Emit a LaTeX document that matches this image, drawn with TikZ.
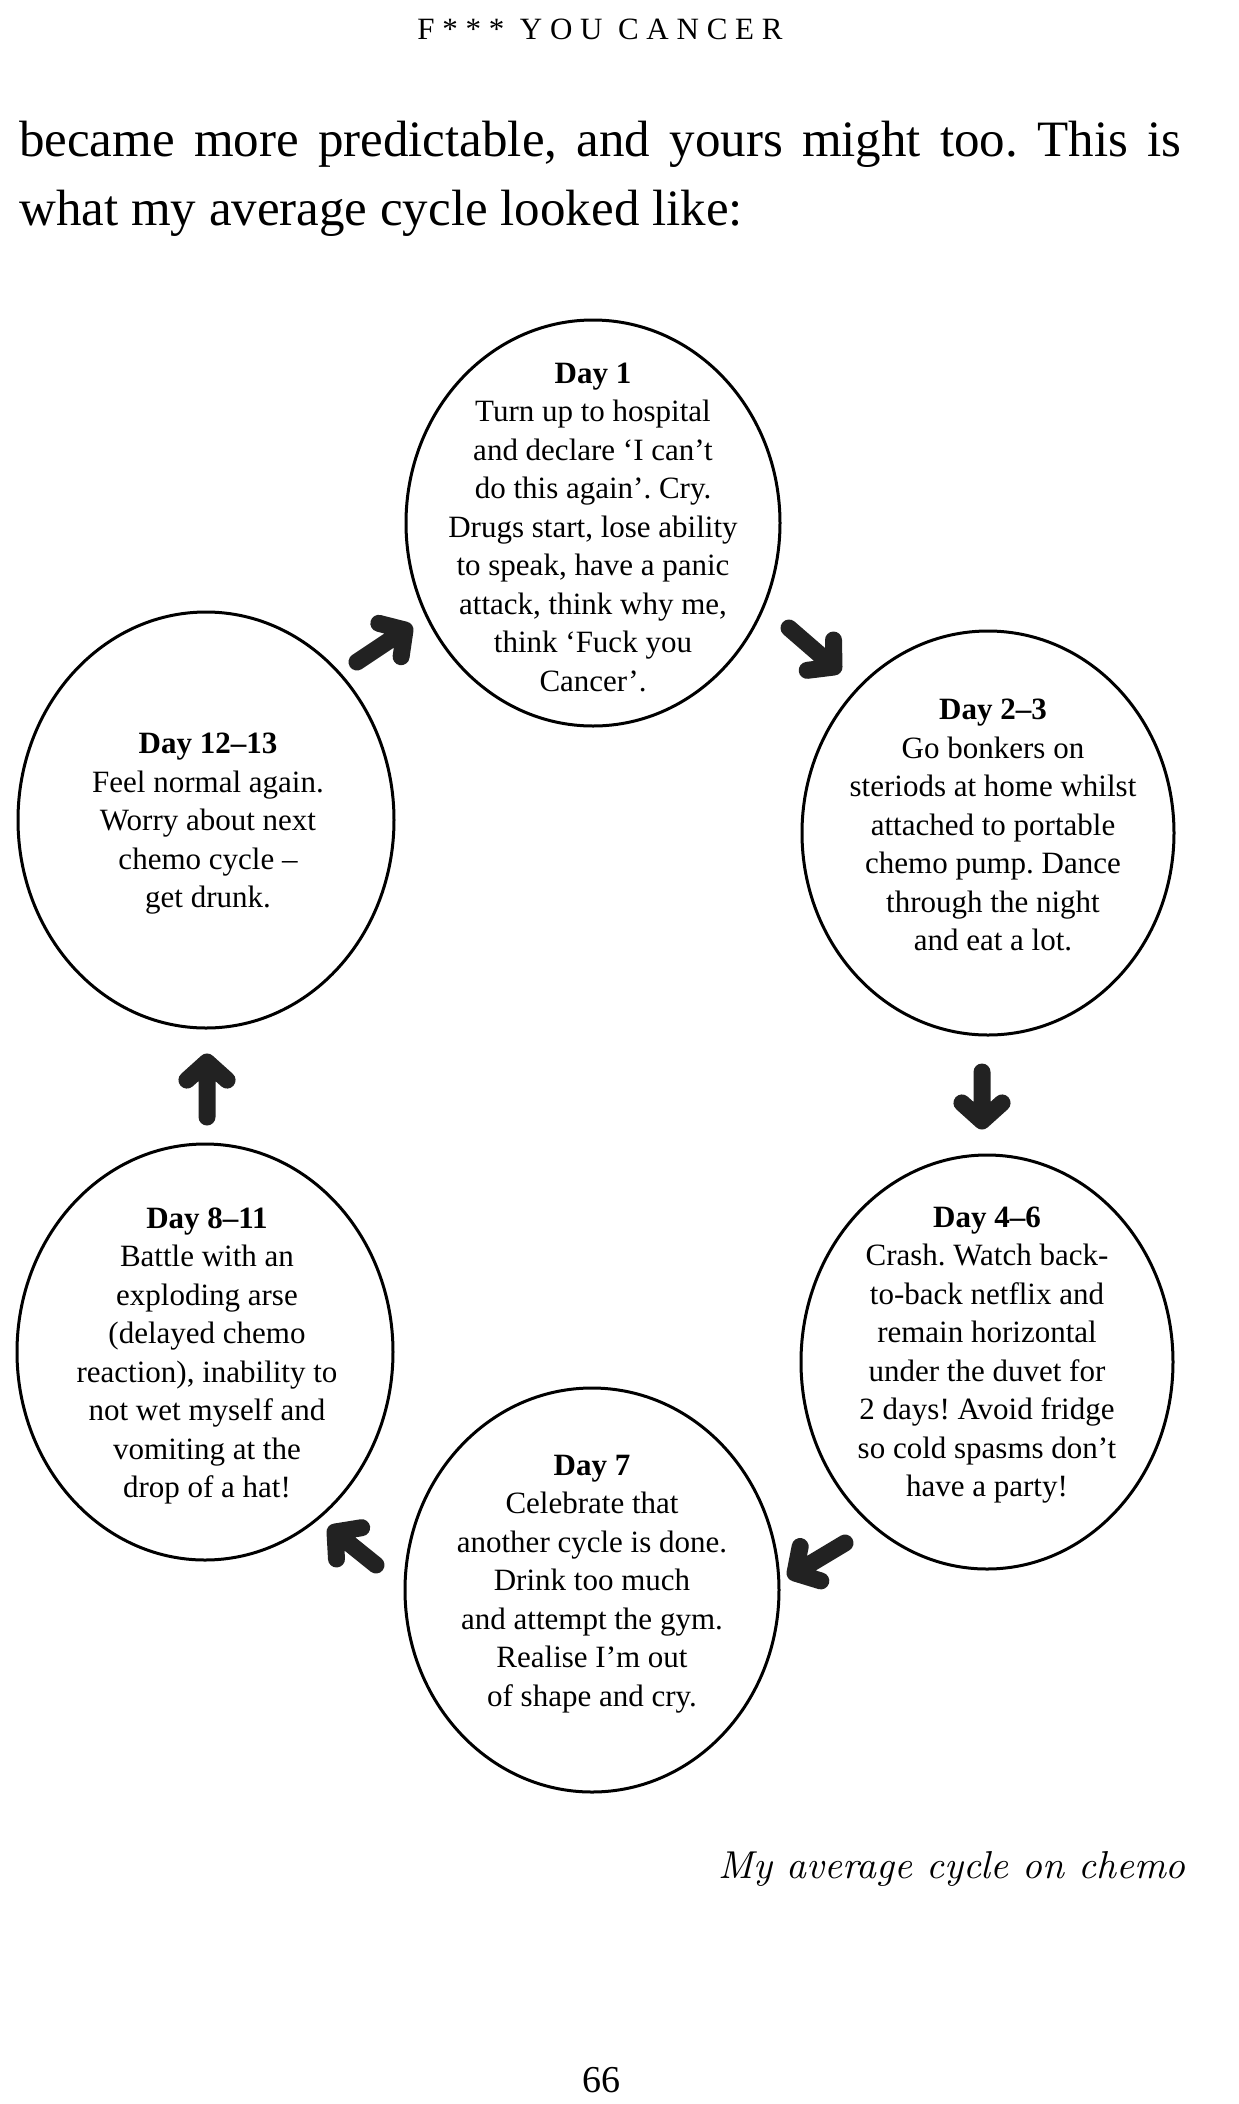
\documentclass[tikz,border=0pt]{standalone}
\usepackage{fontspec}
\newfontfamily\tnr{Liberation Serif}
\usetikzlibrary{calc,shapes.geometric}
\definecolor{arrowink}{HTML}{222222}
\frenchspacing
\tikzset{
  stage/.style={draw=black, line width=3pt, ellipse, inner sep=0pt},
  daytxt/.style={align=center, inner sep=0pt, font=\tnr\fontsize{31}{38.5}\selectfont\frenchspacing},
  fat/.style={draw=arrowink, line width=17pt, line cap=round, line join=round},
  bodytxt/.style={anchor=base west, inner sep=0pt, font=\tnr\fontsize{51}{60}\selectfont\frenchspacing},
}
\newcommand\fatarrow[2]{%
  \draw[fat] (#1) -- (#2)
    ($(#2)!27pt!48:(#1)$) -- (#2) -- ($(#2)!27pt!-48:(#1)$);}
\begin{document}
\begin{tikzpicture}[x=1pt,y=-1pt]
\fill[white] (0,0) rectangle (1239,2104);
\useasboundingbox (0,0) rectangle (1239,2104);

% running head and body text
\node[anchor=base, inner sep=0pt, font=\tnr\fontsize{31}{36}\selectfont\addfontfeature{LetterSpace=25}] (head) at (600,39) {F*** YOU CANCER};
\node[bodytxt] (line1) at (19,156) {\makebox[1162pt][s]{became more predictable, and yours might too. This is}};
\node[bodytxt] (line2) at (19,225) {what my average cycle looked like:};

% stages
\node[stage, minimum width=374pt, minimum height=406pt] (d1)  at (593,523) {};
\node[stage, minimum width=372pt, minimum height=404pt] (d23) at (988,833) {};
\node[stage, minimum width=372pt, minimum height=414pt] (d46) at (987,1362) {};
\node[stage, minimum width=374pt, minimum height=404pt] (d7)  at (592,1590) {};
\node[stage, minimum width=376pt, minimum height=416pt] (d811) at (205,1352) {};
\node[stage, minimum width=376pt, minimum height=416pt] (d1213) at (206,820) {};

\node[daytxt] (t1) at (593,527) {\textbf{Day 1}\\Turn up to hospital\\and declare ‘I can’t\\do this again’. Cry.\\Drugs start, lose ability\\to speak, have a panic\\attack, think why me,\\think ‘Fuck you\\Cancer’.};
\node[daytxt] (t23) at (993,825) {\textbf{Day 2–3}\\Go bonkers on\\steriods at home whilst\\attached to portable\\chemo pump. Dance\\through the night\\and eat a lot.};
\node[daytxt] (t46) at (987,1355) {\textbf{Day 4–6}\\Crash. Watch back-\\to-back netflix and\\remain horizontal\\under the duvet for\\2 days! Avoid fridge\\so cold spasms don’t\\have a party!};
\node[daytxt] (t7) at (592,1584) {\textbf{Day 7}\\Celebrate that\\another cycle is done.\\Drink too much\\and attempt the gym.\\Realise I’m out\\of shape and cry.};
\node[daytxt] (t811) at (207,1356) {\textbf{Day 8–11}\\Battle with an\\exploding arse\\(delayed chemo\\reaction), inability to\\not wet myself and\\vomiting at the\\drop of a hat!};
\node[daytxt] (t1213) at (208,824) {\textbf{Day 12–13}\\Feel normal again.\\Worry about next\\chemo cycle –\\get drunk.};

% arrows
\coordinate (a1s) at (357,662); \coordinate (a1e) at (405,630);
\coordinate (a2s) at (789,628); \coordinate (a2e) at (834,667);
\coordinate (a3s) at (982,1072); \coordinate (a3e) at (982,1121);
\coordinate (a4s) at (845,1543); \coordinate (a4e) at (795,1573);
\coordinate (a5s) at (376,1565); \coordinate (a5e) at (335,1532);
\coordinate (a6s) at (207,1117); \coordinate (a6e) at (207,1062);
\fatarrow{a1s}{a1e}
\fatarrow{a2s}{a2e}
\fatarrow{a3s}{a3e}
\fatarrow{a4s}{a4e}
\fatarrow{a5s}{a5e}
\fatarrow{a6s}{a6e}

% caption and folio
\node[anchor=base east, inner sep=0pt] (cap) at (1186,1878) {\resizebox{467pt}{!}{\itshape My average cycle on chemo}};
\node[anchor=base, inner sep=0pt, font=\tnr\fontsize{38}{44}\selectfont] (folio) at (601,2092) {66};
\end{tikzpicture}
\end{document}
